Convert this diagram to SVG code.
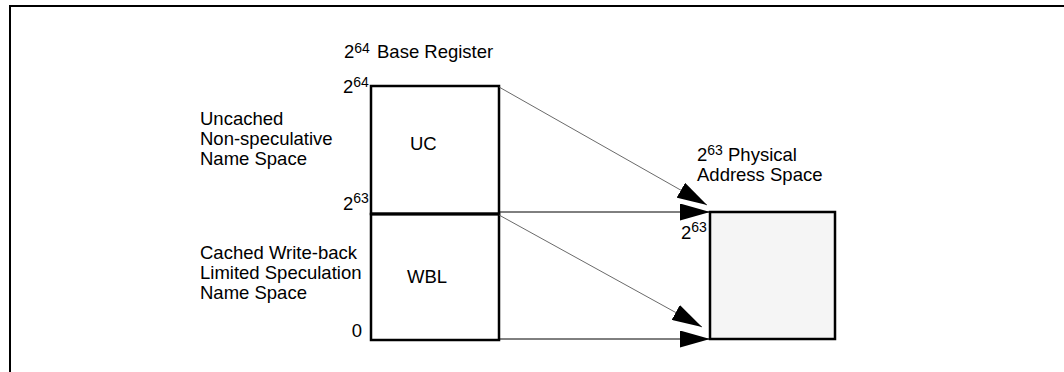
<svg xmlns="http://www.w3.org/2000/svg" width="1064" height="372" viewBox="0 0 1064 372">
<style>
  text { font-family: "Liberation Sans", Arial, sans-serif; font-size: 18.5px; fill: #000; }
  .sup { font-size: 14px; }
  .box { fill: #fff; stroke: #000; stroke-width: 2.5; }
  .phys { fill: #f5f5f5; stroke: #000; stroke-width: 2.5; }
  .frame { stroke: #000; stroke-width: 2; fill: none; }
  .h { stroke: #000; stroke-width: 1; fill: none; }
  .d { stroke: #444; stroke-width: 0.8; fill: none; }
</style>
<defs>
  <marker id="ah" markerUnits="userSpaceOnUse" markerWidth="31" markerHeight="17" refX="30" refY="8.5" orient="auto">
    <path d="M0,0 L30,8.5 L0,17 z" fill="#000"/>
  </marker>
</defs>
<rect x="0" y="0" width="1064" height="372" fill="#fff"/>
<g id="frame">
  <line class="frame" x1="10" y1="6" x2="1064" y2="6"/>
  <line class="frame" x1="10" y1="5" x2="10" y2="372"/>
</g>
<g id="title-base">
  <text x="344" y="58">2<tspan class="sup" dy="-5">64</tspan><tspan dy="5" x="377">Base Register</tspan></text>
</g>
<g id="label-uncached">
  <text x="200" y="125">Uncached</text>
  <text x="200" y="145">Non-speculative</text>
  <text x="200" y="165">Name Space</text>
</g>
<g id="label-cached">
  <text x="200" y="259">Cached Write-back</text>
  <text x="200" y="279">Limited Speculation</text>
  <text x="200" y="299">Name Space</text>
</g>
<g id="ticks">
  <text x="343" y="93">2<tspan class="sup" dy="-6">64</tspan></text>
  <text x="343" y="210">2<tspan class="sup" dy="-7">63</tspan></text>
  <text x="362" y="337" text-anchor="end">0</text>
</g>
<g id="node-uc">
  <rect class="box" x="371" y="86" width="128" height="128"/>
  <text x="410" y="150">UC</text>
</g>
<g id="node-wbl">
  <rect class="box" x="371" y="214" width="128" height="126"/>
  <text x="407" y="283">WBL</text>
</g>
<line x1="370" y1="214" x2="500" y2="214" stroke="#000" stroke-width="3"/>
<g id="node-physical">
  <text x="697" y="160.5">2<tspan class="sup" dy="-6">63</tspan><tspan dy="6"> Physical</tspan></text>
  <text x="697" y="180.5">Address Space</text>
  <rect class="phys" x="710" y="212" width="125" height="127"/>
  <text x="681" y="239">2<tspan class="sup" dy="-7">63</tspan></text>
</g>
<g id="connectors">
  <line class="d" x1="499" y1="87" x2="707" y2="205" marker-end="url(#ah)"/>
  <line class="h" x1="499" y1="212" x2="710" y2="212" marker-end="url(#ah)"/>
  <line class="d" x1="499" y1="215" x2="702" y2="327" marker-end="url(#ah)"/>
  <line class="h" x1="499" y1="339" x2="710" y2="339" marker-end="url(#ah)"/>
</g>
</svg>
